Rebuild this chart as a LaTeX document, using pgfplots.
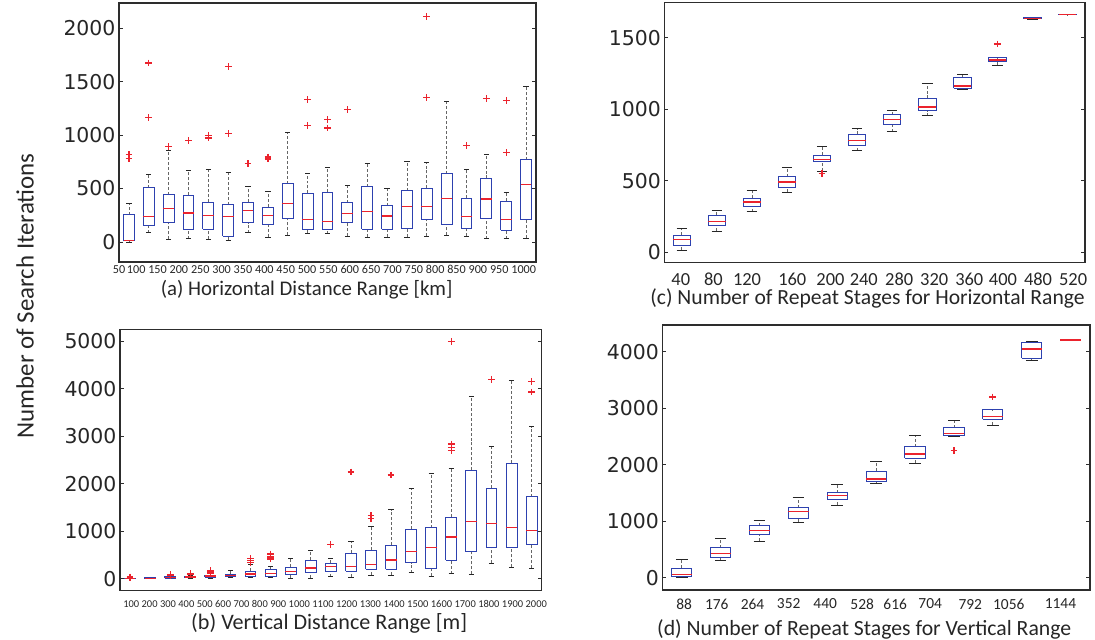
\documentclass[border=0pt]{standalone}
\usepackage{fontspec}
\setmainfont{Carlito}
\newfontfamily\tickf{DejaVu Sans}
\usepackage{pgfplots}
\pgfplotsset{compat=1.18}
\definecolor{boxblue}{RGB}{45,65,175}
\definecolor{medred}{RGB}{235,35,45}
\definecolor{frame}{RGB}{45,45,45}
\pgfplotsset{
 panel/.style={scale only axis, anchor=south west,
   axis line style={draw=frame, line width=1.3bp},
   ytick style={draw=frame, line width=0.8bp}, major tick length=4bp,
   xtick style={draw=none},
   yticklabel style={font=\tickf\fontsize{20.5}{20.5}\selectfont, text=black!85},
   /pgf/number format/assume math mode=true,
   /pgf/number format/1000 sep={},
 },
 whisk/.style={draw=black!60, densely dashed, line width=0.8bp, unbounded coords=jump},
 wcap/.style={draw=black!85, solid, line width=0.9bp, unbounded coords=jump},
 bxs/.style={draw=boxblue, solid, line width=1bp, line join=miter},
 medl/.style={draw=medred, solid, line width=1.3bp},
 outl/.style={only marks, color=medred, draw=medred, mark=+, mark size=3.4bp, mark options={solid, draw=medred, line width=1.2bp}},
}
% #1 position, #2 lower whisker, #3 lower quartile, #4 median, #5 upper quartile, #6 upper whisker
\newcommand{\bx}[6]{%
  \pgfmathsetmacro\xL{#1-\bw}\pgfmathsetmacro\xR{#1+\bw}%
  \pgfmathsetmacro\cL{#1-\cw}\pgfmathsetmacro\cR{#1+\cw}%
  \edef\tmpa{\noexpand\addplot[whisk] coordinates {(#1,#2)(#1,#3)(#1,nan)(#1,#5)(#1,#6)};}\tmpa
  \edef\tmpb{\noexpand\addplot[wcap] coordinates {(\cL,#2)(\cR,#2)(\cL,nan)(\cL,#6)(\cR,#6)};}\tmpb
  \edef\tmpc{\noexpand\addplot[bxs] coordinates {(\xL,#3)(\xR,#3)(\xR,#5)(\xL,#5)(\xL,#3)};}\tmpc
  \edef\tmpd{\noexpand\addplot[medl] coordinates {(\xL,#4)(\xR,#4)};}\tmpd
}
\begin{document}
\begin{tikzpicture}
\useasboundingbox (0bp,0bp) rectangle (1095bp,-640bp);
\node[rotate=90, font=\fontsize{25}{25}\selectfont, text=black!85] at (25bp,-296bp) {Number of Search Iterations};
% (a)
\def\bw{0.27}\def\cw{0.13}
\begin{axis}[panel, at={(119bp,-262bp)}, width=417bp, height=259bp,
  xmin=0.5, xmax=21.5, ymin=-187, ymax=2235, ytick={0,500,1000,1500,2000},
  xtick={0.5,1.366,2.442,3.517,4.593,5.668,6.744,7.819,8.895,9.970,11.046,12.121,13.197,14.272,15.348,16.423,17.499,18.574,19.650,20.88},
  xticklabels={50,100,150,200,250,300,350,400,450,500,550,600,650,700,750,800,850,900,950,1000},
  xticklabel style={anchor=center, inner sep=0pt, yshift=-7.7bp, font=\fontsize{12.2}{12.2}\selectfont, text=black!85},
  xlabel={(a) Horizontal Distance Range [km]},
  xlabel style={at={(axis description cs:0.45,-0.107)}, anchor=center, inner sep=0pt, font=\fontsize{20.9}{20.9}\selectfont, text=black!85}]
\bx{1}{0}{10}{12}{255}{358}
\bx{2}{87}{153}{240}{508}{632}
\bx{3}{25}{178}{311}{442}{857}
\bx{4}{31}{121}{271}{436}{670}
\bx{5}{25}{121}{249}{374}{676}
\bx{6}{16}{53}{240}{349}{654}
\bx{7}{87}{181}{296}{371}{520}
\bx{8}{47}{162}{249}{327}{477}
\bx{9}{62}{218}{358}{545}{1028}
\bx{10}{83}{117}{210}{454}{640}
\bx{11}{77}{117}{195}{467}{695}
\bx{12}{53}{182}{269}{368}{525}
\bx{13}{46}{117}{287}{516}{739}
\bx{14}{46}{117}{244}{337}{501}
\bx{15}{46}{124}{334}{479}{757}
\bx{16}{53}{210}{334}{501}{745}
\bx{17}{62}{167}{408}{640}{1314}
\bx{18}{53}{124}{238}{408}{683}
\bx{19}{31}{216}{402}{594}{822}
\bx{20}{31}{111}{210}{380}{467}
\bx{21}{37}{210}{538}{767}{1453}
\addplot[outl] coordinates {(1,819)(1,779)(2,1673)(2,1162)(3,894)(4,950)(5,997)(5,972)(6,1642)(6,1012)(7,732)(8,794)(8,776)(10,1329)(10,1088)(11,1144)(11,1066)(12,1240)(16,2108)(16,1354)(18,903)(19,1345)(20,1326)(20,835)};
\end{axis}
% (b)
\def\bw{0.27}\def\cw{0.13}
\begin{axis}[panel, at={(120bp,-590.7bp)}, width=421.7bp, height=261.4bp,
  xmin=0.5, xmax=21.5, ymin=-252, ymax=5247, ytick={0,1000,2000,3000,4000,5000},
  xtick={1.06,1.975,2.89,3.805,4.72,5.635,6.55,7.465,8.38,9.43,10.61,11.79,12.97,14.15,15.33,16.51,17.69,18.87,20.05,21.23},
  xticklabels={100,200,300,400,500,600,700,800,900,1000,1100,1200,1300,1400,1500,1600,1700,1800,1900,2000},
  xticklabel style={anchor=center, inner sep=0pt, yshift=-13.3bp, font=\fontsize{10.5}{10.5}\selectfont, text=black!85},
  xlabel={(b) Vertical Distance Range [m]},
  xlabel style={at={(axis description cs:0.496,-0.124)}, anchor=center, inner sep=0pt, font=\fontsize{22.2}{22.2}\selectfont, text=black!85}]
\bx{1}{0}{3}{8}{14}{20}
\bx{2}{2}{8}{12}{18}{25}
\bx{3}{5}{12}{20}{38}{55}
\bx{4}{10}{22}{35}{55}{77}
\bx{5}{15}{35}{55}{77}{112}
\bx{6}{21}{56}{75}{98}{168}
\bx{7}{21}{49}{98}{154}{294}
\bx{8}{21}{56}{112}{196}{252}
\bx{9}{7}{84}{147}{238}{421}
\bx{10}{14}{133}{224}{393}{603}
\bx{11}{42}{154}{252}{323}{435}
\bx{12}{28}{154}{252}{533}{785}
\bx{13}{77}{203}{302}{596}{1101}
\bx{14}{77}{196}{393}{708}{1452}
\bx{15}{126}{337}{568}{1038}{1908}
\bx{16}{56}{210}{659}{1073}{2216}
\bx{17}{105}{393}{877}{1297}{2321}
\bx{18}{91}{568}{1206}{2279}{3843}
\bx{19}{323}{659}{1157}{1900}{2791}
\bx{20}{238}{659}{1073}{2426}{4180}
\bx{21}{224}{729}{1010}{1725}{3198}
\addplot[outl] coordinates {(1,35)(1,20)(3,84)(3,62)(4,112)(4,90)(5,168)(5,140)(5,120)(7,420)(7,379)(7,337)(8,519)(8,463)(8,435)(8,414)(11,722)(12,2244)(13,1325)(13,1269)(14,2181)(17,4986)(17,2833)(17,2756)(17,2693)(19,4194)(21,4145)(21,3927)};
\end{axis}
% (c)
\def\bw{0.25}\def\cw{0.15}
\begin{axis}[panel, at={(664.3bp,-262.7bp)}, width=420.7bp, height=260bp,
  xmin=0.5, xmax=12.5, ymin=-72, ymax=1744, ytick={0,500,1000,1500},
  xtick={0.97,1.90,2.86,4.15,5.24,6.19,7.20,8.20,9.20,10.16,11.16,12.16},
  xticklabels={40,80,120,160,200,240,280,320,360,400,480,520},
  xticklabel style={anchor=center, inner sep=0pt, yshift=-16.8bp, font=\fontsize{18.5}{18.5}\selectfont, text=black!85},
  xlabel={(c) Number of Repeat Stages for Horizontal Range},
  xlabel style={at={(axis description cs:0.483,-0.137)}, anchor=center, inner sep=0pt, font=\fontsize{21.7}{21.7}\selectfont, text=black!85}]
\bx{1}{16}{51}{91}{119}{165}
\bx{2}{149}{191}{214}{259}{296}
\bx{3}{284}{321}{352}{377}{436}
\bx{4}{419}{454}{491}{529}{594}
\bx{5}{568}{636}{647}{680}{743}
\bx{6}{711}{748}{783}{825}{865}
\bx{7}{842}{893}{930}{963}{991}
\bx{8}{956}{991}{1016}{1075}{1180}
\bx{9}{1140}{1145}{1163}{1221}{1245}
\bx{10}{1308}{1331}{1343}{1359}{1361}
\bx{11}{1629}{1634}{1636}{1638}{1640}
\bx{12}{1660}{1661}{1662}{1663}{1665}
\addplot[outl] coordinates {(5,552)(10,1455)};
\end{axis}
% (d)
\def\bw{0.26}\def\cw{0.15}
\begin{axis}[panel, at={(662.3bp,-590bp)}, width=427.7bp, height=265bp,
  xmin=0.5, xmax=11.5, ymin=-218, ymax=4472, ytick={0,1000,2000,3000,4000},
  xtick={1.06,1.90,2.82,3.75,4.69,5.64,6.49,7.39,8.42,9.41,10.74},
  xticklabels={88,176,264,352,440,528,616,704,792,1056,1144},
  xticklabel style={anchor=center, inner sep=0pt, yshift=-14bp, font=\fontsize{15.5}{15.5}\selectfont, text=black!85},
  xlabel={(d) Number of Repeat Stages for Vertical Range},
  xlabel style={at={(axis description cs:0.472,-0.147)}, anchor=center, inner sep=0pt, font=\fontsize{21.8}{21.8}\selectfont, text=black!85}]
\bx{1}{6}{18}{59}{165}{330}
\bx{2}{313}{354}{431}{531}{690}
\bx{3}{649}{761}{832}{915}{1015}
\bx{4}{985}{1056}{1174}{1239}{1422}
\bx{5}{1286}{1392}{1451}{1505}{1652}
\bx{6}{1664}{1699}{1746}{1882}{2053}
\bx{7}{2024}{2118}{2189}{2319}{2513}
\bx{8}{2502}{2513}{2555}{2655}{2785}
\bx{9}{2696}{2802}{2850}{2968}{2974}
\bx{10}{3853}{3882}{4047}{4160}{4177}
\bx{11}{4200}{4203}{4207}{4210}{4213}
\addplot[outl] coordinates {(8,2248)(9,3198)};
\end{axis}
\end{tikzpicture}
\end{document}
